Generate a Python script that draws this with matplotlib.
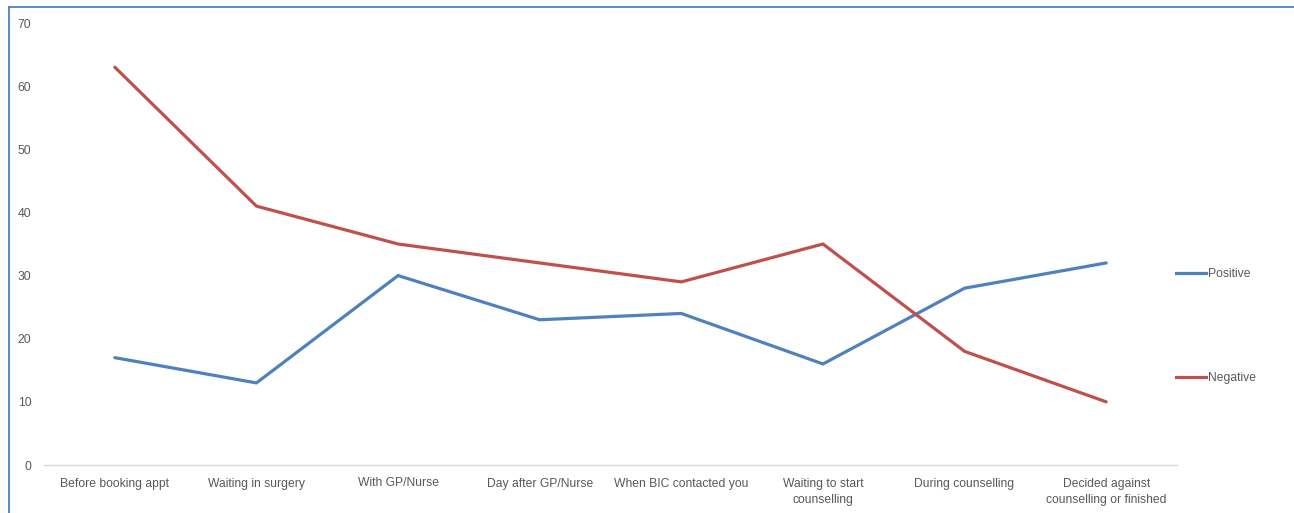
import matplotlib

matplotlib.use("Agg")
import matplotlib.pyplot as plt
from matplotlib.lines import Line2D

stages = [
    "Before booking appt",
    "Waiting in surgery",
    "With GP/Nurse",
    "Day after GP/Nurse",
    "When BIC contacted you",
    "Waiting to start\ncounselling",
    "During counselling",
    "Decided against\ncounselling or finished",
]
positive = [17, 13, 30, 23, 24, 16, 28, 32]
negative = [63, 41, 35, 32, 29, 35, 18, 10]

BLUE = "#4F81BD"
RED = "#C0504D"
GREY_TXT = "#595959"

plt.rcParams["font.family"] = ["Liberation Sans", "DejaVu Sans"]

W, H = 1294, 513
fig = plt.figure(figsize=(W / 100, H / 100), dpi=100)
ax = fig.add_axes([44 / W, 1 - 465 / H, (1177 - 44) / W, (465 - 23) / H])

x = range(len(stages))
ax.plot(x, positive, color=BLUE, lw=2.3, solid_capstyle="round", label="Positive")
ax.plot(x, negative, color=RED, lw=2.3, solid_capstyle="round", label="Negative")

ax.set_xlim(-0.5, len(stages) - 0.5)
ax.set_ylim(0, 70)
ax.set_yticks(range(0, 71, 10))
ax.set_xticks(list(x))
ax.set_xticklabels(stages, fontsize=8.7, color=GREY_TXT, linespacing=1.45)
ax.tick_params(axis="y", labelsize=8.7, labelcolor=GREY_TXT, length=0, pad=9)
ax.tick_params(axis="x", length=0, pad=9)

for side in ("top", "right", "left"):
    ax.spines[side].set_visible(False)
ax.spines["bottom"].set_color("#D9D9D9")
ax.spines["bottom"].set_linewidth(1)

# legend on the right, entries far apart
handles = [Line2D([], [], color=BLUE, lw=2.3), Line2D([], [], color=RED, lw=2.3)]
fig.legend(handles, ["Positive", "Negative"], loc="center left",
           bbox_to_anchor=(1170 / W, 1 - 326 / H), frameon=False,
           fontsize=8.7, labelcolor=GREY_TXT, handlelength=2.5,
           handletextpad=0.15, labelspacing=7.6, borderpad=0)

# chart area border (top and left edges visible)
fig.add_artist(Line2D([9 / W, 1], [1 - 7 / H, 1 - 7 / H], color=BLUE, lw=1.3,
                      transform=fig.transFigure))
fig.add_artist(Line2D([9 / W, 9 / W], [0, 1 - 7 / H], color=BLUE, lw=1.3,
                      transform=fig.transFigure))

fig.savefig("out.png", dpi=100)
